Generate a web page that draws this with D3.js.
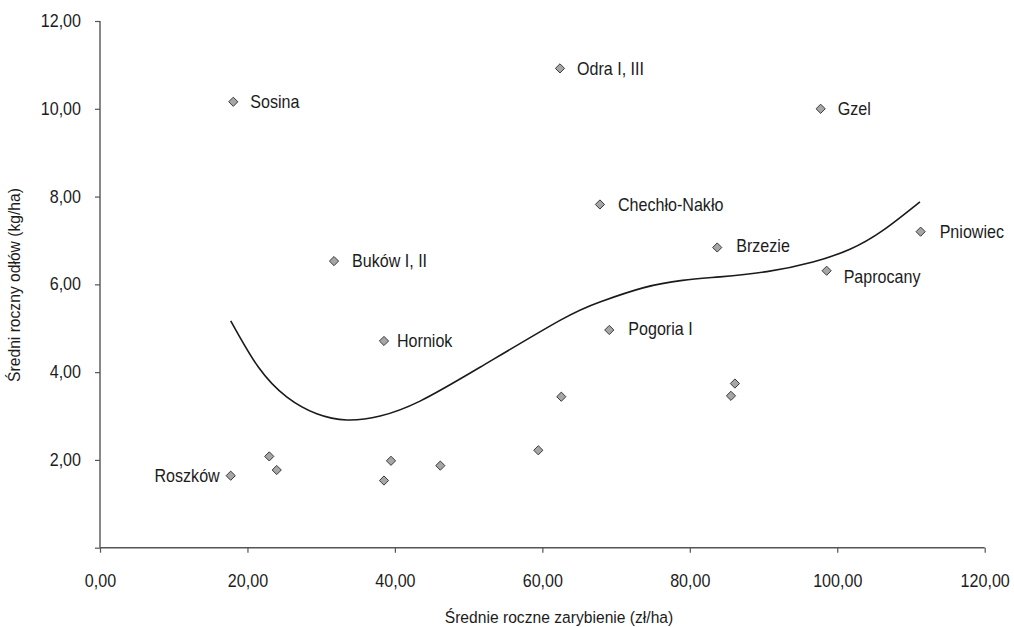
<!DOCTYPE html>
<html>
<head>
<meta charset="utf-8">
<script src="https://cdn.jsdelivr.net/npm/d3@7"></script>
<style>
  html, body { margin: 0; padding: 0; background: #fff; }
  svg text { font-family: "Liberation Sans", Arial, Helvetica, sans-serif; fill: #1c1c1c; }
</style>
</head>
<body>
<svg id="chart" width="1014" height="627"></svg>
<script>
// Lakes: mean annual stocking (zł/ha) vs mean annual catch (kg/ha)
const lakeNames = ["Sosina", "Odra I, III", "Gzel", "Chechło-Nakło", "Brzezie", "Pniowiec",
  "Paprocany", "Buków I, II", "Horniok", "Pogoria I", "Roszków",
  "", "", "", "", "", "", "", "", ""];
const stocking = [18.08, 62.39, 97.75, 67.81, 83.72, 111.31,
  98.56, 31.74, 38.52, 69.08, 17.73,
  22.96, 23.97, 38.52, 39.47, 46.16, 59.45, 62.57, 85.58, 86.12];
const catchKg = [10.16, 10.92, 10.00, 7.82, 6.84, 7.20,
  6.31, 6.53, 4.71, 4.96, 1.64,
  2.08, 1.77, 1.53, 1.98, 1.87, 2.22, 3.44, 3.46, 3.74];

// Polynomial trend line, sampled along x
const trendX = [17.73, 21.50, 25.36, 29.40, 33.46, 38.00, 43.41, 51.54,
  62.39, 67.81, 73.65, 79.00, 84.09, 90.46, 96.70, 101.72, 106.20, 111.22];
const trendY = [5.17, 4.11, 3.43, 3.05, 2.91, 3.00, 3.34, 4.11,
  5.18, 5.60, 5.92, 6.09, 6.17, 6.29, 6.51, 6.80, 7.23, 7.88];

const xTicks = [0, 20, 40, 60, 80, 100, 120];
const yTicks = [0, 2, 4, 6, 8, 10, 12];

// label placement relative to each marker
const labelPlacement = {
  "Sosina": [17, 0], "Odra I, III": [17, 0], "Gzel": [17, 0], "Chechło-Nakło": [18, 0],
  "Brzezie": [19, -2], "Pniowiec": [19, 0], "Paprocany": [17, 6], "Buków I, II": [18, 0],
  "Horniok": [13, 0], "Pogoria I": [19, -1], "Roszków": [-11, 0]
};

const squeeze = 0.92;   // condensed lettering
const fontSize = 17.5;

const svg = d3.select("#chart");
const x = d3.scaleLinear().domain([0, 120]).range([100, 984.7]);
const y = d3.scaleLinear().domain([0, 12]).range([547.7, 21]);
const fmt = v => d3.format(".2f")(v).replace(".", ",");

// narrow the glyphs horizontally, keeping each text's anchor point in place
function condense(sel) {
  sel.each(function () {
    const t = d3.select(this);
    const tx = +t.attr("x") || 0, ty = +t.attr("y") || 0;
    t.attr("x", 0).attr("y", 0)
      .attr("transform", `translate(${tx},${ty}) scale(${squeeze},1)`);
  });
}

const axisColor = "#555";

const gx = svg.append("g").attr("transform", `translate(0,${y(0)})`)
  .call(d3.axisBottom(x).tickValues(xTicks).tickSize(5).tickPadding(22).tickFormat(fmt));
const gy = svg.append("g").attr("transform", `translate(${x(0)},0)`)
  .call(d3.axisLeft(y).tickValues(yTicks).tickSize(5).tickPadding(14)
    .tickFormat(v => v === 0 ? "" : fmt(v)));
[gx, gy].forEach(g => {
  g.select(".domain").attr("stroke", axisColor).attr("stroke-width", 1.4);
  g.selectAll(".tick line").attr("stroke", axisColor).attr("stroke-width", 1.2);
  g.selectAll(".tick text").attr("font-size", fontSize).attr("fill", "#1c1c1c")
    .attr("font-family", "Liberation Sans, Arial, sans-serif")
    .call(condense);
});
gx.select(".domain").attr("d", `M${x(0)},0H${x(120)}`);
gy.select(".domain").attr("d", `M0,${y(12)}V${y(0)}`);

// trend line
const trend = trendX.map((v, i) => [v, trendY[i]]);
svg.append("path")
  .datum(trend)
  .attr("fill", "none")
  .attr("stroke", "#1a1a1a")
  .attr("stroke-width", 1.6)
  .attr("d", d3.line().x(d => x(d[0])).y(d => y(d[1])).curve(d3.curveNatural));

// markers
const pts = stocking.map((v, i) => ({ x: v, y: catchKg[i], name: lakeNames[i] }));
const r = 4.6;
svg.append("g").selectAll("path").data(pts).join("path")
  .attr("transform", d => `translate(${x(d.x)},${y(d.y)})`)
  .attr("d", `M0,${-r}L${r},0L0,${r}L${-r},0Z`)
  .attr("fill", "#a6a6a6")
  .attr("stroke", "#3a3a3a")
  .attr("stroke-width", 1);

// lake names
svg.append("g").selectAll("text").data(pts.filter(d => d.name)).join("text")
  .attr("x", d => x(d.x) + labelPlacement[d.name][0])
  .attr("y", d => y(d.y) + labelPlacement[d.name][1])
  .attr("dy", "0.36em")
  .attr("text-anchor", d => labelPlacement[d.name][0] < 0 ? "end" : "start")
  .attr("font-size", fontSize)
  .text(d => d.name)
  .call(condense);

// axis titles
svg.append("text")
  .attr("x", 559).attr("y", 623)
  .attr("text-anchor", "middle")
  .attr("font-size", 17)
  .text("Średnie roczne zarybienie (zł/ha)")
  .call(condense);
svg.append("text")
  .attr("transform", `translate(20,285) rotate(-90) scale(${squeeze},1)`)
  .attr("text-anchor", "middle")
  .attr("font-size", 17)
  .text("Średni roczny odłów (kg/ha)");
</script>
</body>
</html>
